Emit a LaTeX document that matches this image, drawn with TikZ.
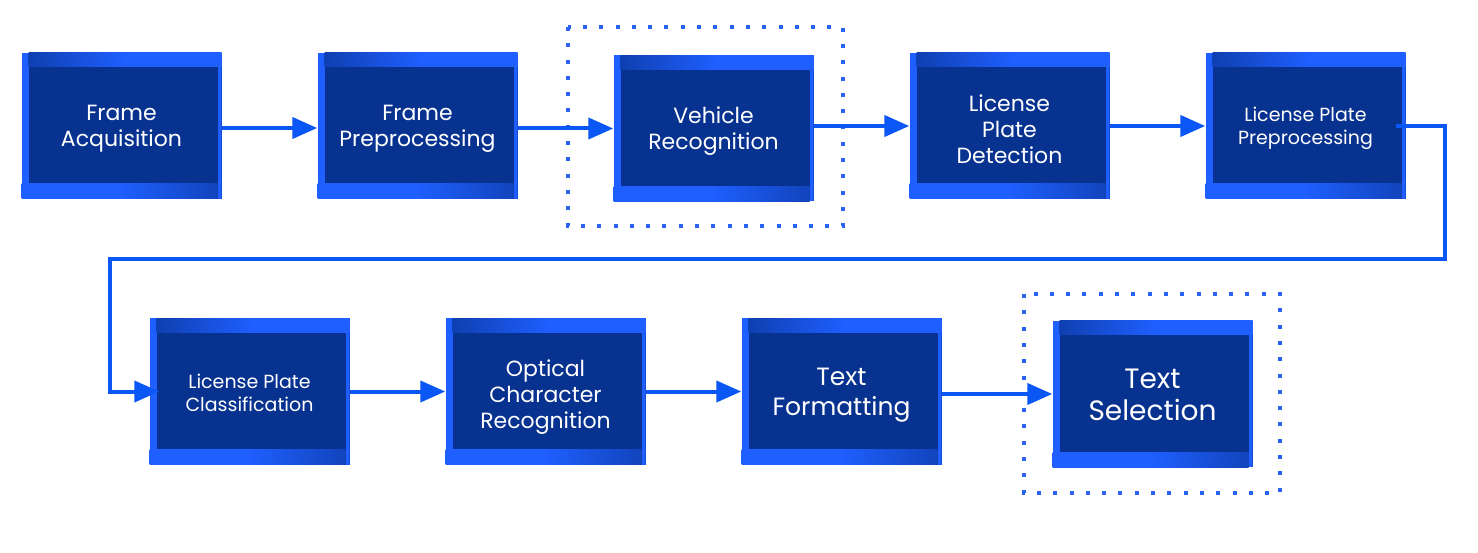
\documentclass[tikz,border=0pt]{standalone}
\usepackage{fontspec}
\setmainfont{Poppins}
\usetikzlibrary{arrows.meta}
\definecolor{boxdark}{HTML}{08328F}
\definecolor{bandlight}{HTML}{1F5FFF}
\definecolor{flowblue}{HTML}{0B57F5}
\definecolor{dotblue}{HTML}{2A63F2}
\begin{document}
\begin{tikzpicture}[x=1pt,y=-1pt,
    stage/.style={minimum width=200pt,minimum height=146pt,inner sep=0pt,fill=boxdark,
        path picture={
            \fill[bandlight] (path picture bounding box.north west) rectangle ([xshift=7pt]path picture bounding box.south west);
            \fill[bandlight] (path picture bounding box.north east) rectangle ([xshift=-4pt]path picture bounding box.south east);
            \shade[left color=boxdark!70!bandlight,right color=bandlight,middle color=bandlight] ([xshift=7pt]path picture bounding box.north west) rectangle ([yshift=-14pt]path picture bounding box.north east);
            \shade[left color=bandlight,right color=boxdark!60!bandlight,middle color=bandlight] (path picture bounding box.south west) rectangle ([yshift=15pt,xshift=-4pt]path picture bounding box.south east);
        }},
    stagetext/.style={text=white,align=center,yshift=-3pt,font=\fontsize{22}{26}\selectfont},
    smalltext/.style={stagetext,font=\fontsize{19}{23}\selectfont},
    flow/.style={draw=flowblue,line width=4pt,-{Triangle[length=25pt,width=21pt]}},
    dotframe/.style={draw=dotblue,line width=4pt,dash pattern=on 4pt off 12.3pt}]
    \useasboundingbox (0,0) rectangle (1478,553);

    % first row
    \node[stage,label={[stagetext]center:{Frame\\Acquisition}}] (fa) at (121.5,126) {};
    \node[stage,label={[stagetext]center:{Frame\\Preprocessing}}] (fp) at (417.5,126) {};
    \node[stage,label={[stagetext]center:{Vehicle\\Recognition}}] (vr) at (713.5,128.5) {};
    \node[stage,label={[stagetext]center:{License\\Plate\\Detection}}] (lpd) at (1009.5,126) {};
    \node[stage,label={[smalltext,yshift=1pt]center:{License Plate\\Preprocessing}}] (lpp) at (1305.5,126) {};

    % second row
    \node[stage,label={[smalltext,yshift=2pt]center:{License Plate\\Classification}}] (lpc) at (249.5,391.5) {};
    \node[stage,label={[stagetext,yshift=-3pt]center:{Optical\\Character\\Recognition}}] (ocr) at (545.5,391.5) {};
    \node[stage,label={[stagetext,yshift=-1pt,font=\fontsize{25}{30}\selectfont]center:{Text\\Formatting}}] (tf) at (841.5,391.5) {};
    \node[stage,label={[stagetext,yshift=2pt,font=\fontsize{28}{32}\selectfont]center:{Text\\Selection}}] (ts) at (1152.5,394) {};

    \draw[dotframe] (568,27) rectangle (843,226);
    \draw[dotframe] (1024,294) rectangle (1280,493);

    \draw[flow] ([yshift=-2pt]fa.east) -- ([yshift=-2pt]fp.west);
    \draw[flow] (fp.east |- vr.west) -- (vr.west);
    \draw[flow] (vr.east |- lpd.west) -- (lpd.west);
    \draw[flow] (lpd.east) -- (lpp.west);

    \coordinate (bendR) at (1445,259);
    \coordinate (bendL) at (110,259);
    \draw[flow] ([xshift=-10pt]lpp.east) -| (bendR) -- (bendL) |- ([xshift=10pt]lpc.west);

    \draw[flow] (lpc.east) -- (ocr.west);
    \draw[flow] (ocr.east) -- (tf.west);
    \draw[flow] (tf.east |- ts.west) -- (ts.west);
\end{tikzpicture}
\end{document}
